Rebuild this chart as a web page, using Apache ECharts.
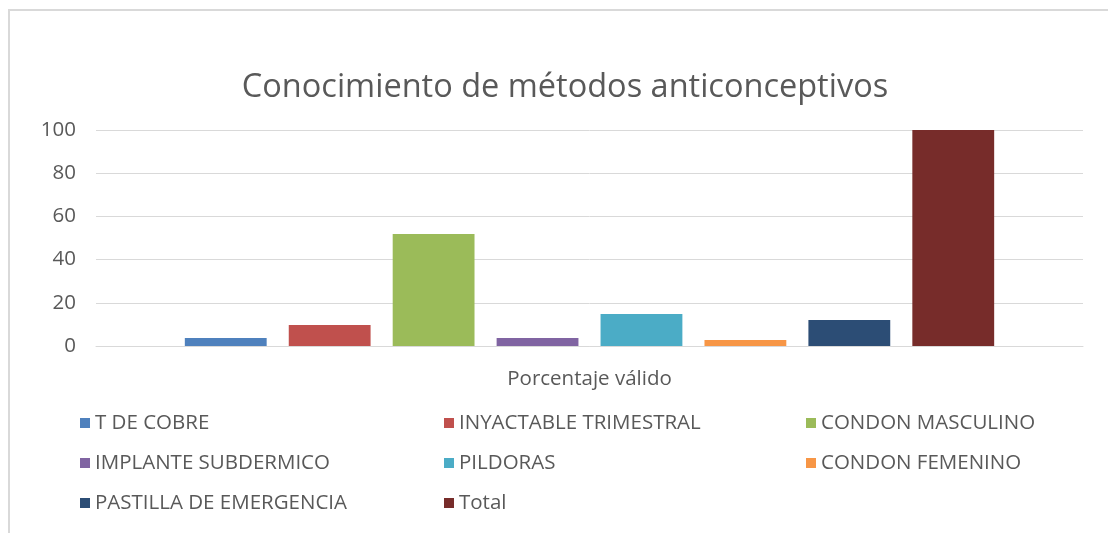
<!DOCTYPE html>
<html>
<head>
<meta charset="utf-8">
<title>Conocimiento de métodos anticonceptivos</title>
<script src="https://cdn.jsdelivr.net/npm/echarts@6/dist/echarts.min.js"></script>
<style>
  html, body { margin: 0; padding: 0; background: #fff; }
  #chart { width: 1108px; height: 533px; }
</style>
</head>
<body>
<div id="chart"></div>
<script>
// datos del gráfico
const categories = ["Porcentaje válido"]
const seriesNames = [
  "T DE COBRE",
  "INYACTABLE TRIMESTRAL",
  "CONDON MASCULINO",
  "IMPLANTE SUBDERMICO",
  "PILDORAS",
  "CONDON FEMENINO",
  "PASTILLA DE EMERGENCIA",
  "Total"
]
const seriesValues = [3.7, 9.7, 51.9, 3.7, 14.8, 2.8, 12.0, 100]
const seriesColors = ["#4f81bd", "#c0504d", "#9bbb59", "#8064a2", "#4bacc6", "#f79646", "#2c4d75", "#772c2a"]
const yTicks = [0, 20, 40, 60, 80, 100]

// columnas de la leyenda
const legendColumns = [
  ["T DE COBRE", "IMPLANTE SUBDERMICO", "PASTILLA DE EMERGENCIA"],
  ["INYACTABLE TRIMESTRAL", "PILDORAS", "Total"],
  ["CONDON MASCULINO", "CONDON FEMENINO"]
]
const legendLeft = [75, 439, 801]

const font = "'Open Sans', 'Noto Sans', sans-serif"
const textColor = "#595959"
const labelSize = 20.5

const chart = echarts.init(document.getElementById("chart"))

const option = {
  animation: false,
  color: seriesColors,
  title: {
    text: "Conocimiento de métodos anticonceptivos",
    left: 560,
    textAlign: "center",
    top: 66,
    textStyle: { fontFamily: font, fontSize: 32.5, fontWeight: "normal", color: textColor }
  },
  graphic: [
    {
      type: "rect",
      shape: { x: 9, y: 10, width: 1120, height: 600 },
      style: { fill: "none", stroke: "#d9d9d9", lineWidth: 2 },
      silent: true
    }
  ],
  legend: legendColumns.map((col, i) => ({
    data: col,
    orient: "vertical",
    left: legendLeft[i],
    top: 406,
    itemWidth: 10,
    itemHeight: 10,
    itemGap: 16,
    icon: "rect",
    textStyle: { fontFamily: font, fontSize: labelSize, color: textColor, lineHeight: 24 }
  })),
  grid: { left: 96, right: 25, top: 130, height: 216 },
  xAxis: {
    type: "category",
    data: categories,
    axisLine: { lineStyle: { color: "#d9d9d9", width: 1 } },
    axisTick: { show: false },
    axisLabel: { fontFamily: font, fontSize: labelSize, color: textColor, margin: 23 }
  },
  yAxis: {
    type: "value",
    min: yTicks[0],
    max: yTicks[yTicks.length - 1],
    interval: yTicks[1] - yTicks[0],
    axisLine: { show: false },
    axisTick: { show: false },
    splitLine: { lineStyle: { color: "#d9d9d9", width: 1 } },
    axisLabel: { fontFamily: font, fontSize: labelSize, color: textColor, margin: 20 }
  },
  series: seriesNames.map((name, i) => ({
    name: name,
    type: "bar",
    data: [seriesValues[i]],
    barGap: "27%",
    barCategoryGap: "18%"
  }))
}

chart.setOption(option)
</script>
</body>
</html>
